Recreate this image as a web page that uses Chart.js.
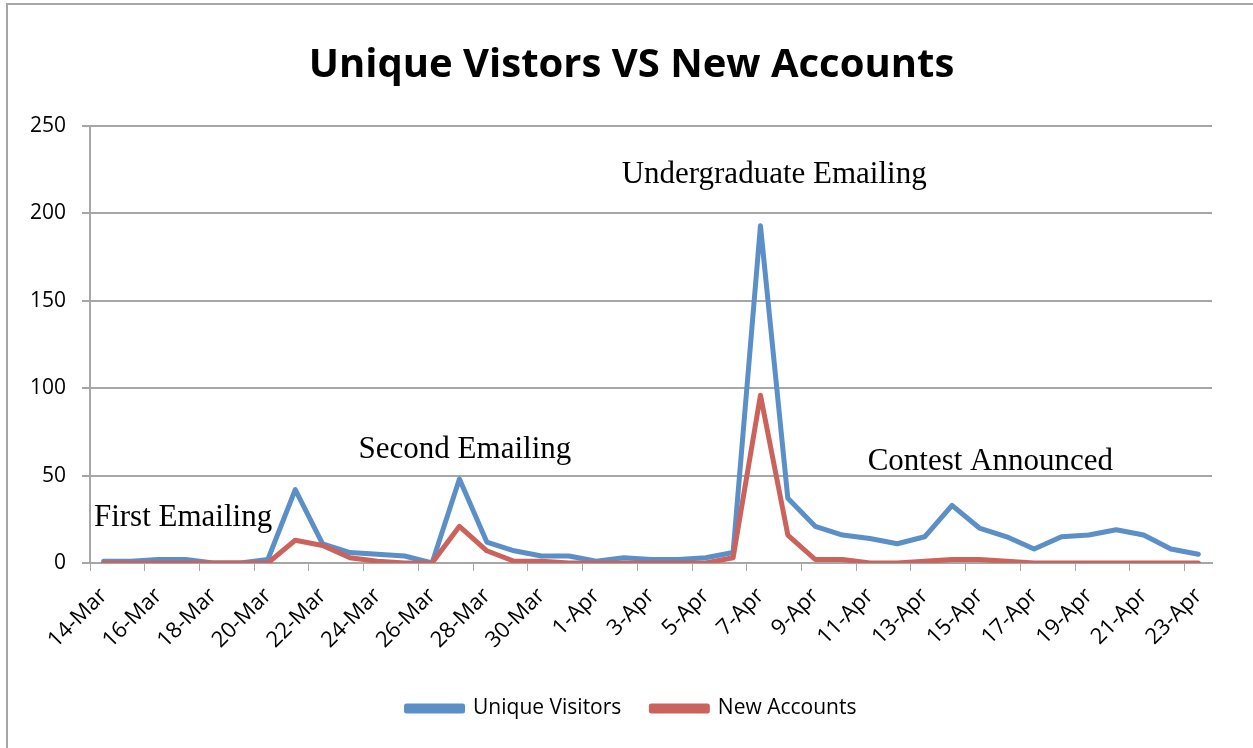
<!DOCTYPE html>
<html lang="en">
<head>
  <meta charset="UTF-8">
  <title>Unique Vistors VS New Accounts</title>
  <script src="https://cdn.jsdelivr.net/npm/chart.js"></script>
  <style>
    body { margin: 0; background: #fff; }
    /* the chart box, only its left and top edges show in the picture */
    .frame {
      position: absolute;
      left: 6px;
      top: 3px;
      width: 1300px;
      height: 800px;
      border-left: 2px solid #a6a6a6;
      border-top: 2px solid #a6a6a6;
    }
    #chart { position: absolute; left: 0; top: 0; }
  </style>
</head>
<body>
  <div class="frame"></div>
  <canvas id="chart" width="1253" height="748"></canvas>

  <script>
    // one entry per day, 14-Mar to 23-Apr
    const days = [
      '14-Mar', '15-Mar', '16-Mar', '17-Mar', '18-Mar', '19-Mar', '20-Mar', '21-Mar',
      '22-Mar', '23-Mar', '24-Mar', '25-Mar', '26-Mar', '27-Mar', '28-Mar', '29-Mar',
      '30-Mar', '31-Mar', '1-Apr', '2-Apr', '3-Apr', '4-Apr', '5-Apr', '6-Apr',
      '7-Apr', '8-Apr', '9-Apr', '10-Apr', '11-Apr', '12-Apr', '13-Apr', '14-Apr',
      '15-Apr', '16-Apr', '17-Apr', '18-Apr', '19-Apr', '20-Apr', '21-Apr', '22-Apr',
      '23-Apr'
    ];

    const uniqueVisitors = [
      1, 1, 2, 2, 0, 0, 2, 42,
      11, 6, 5, 4, 0, 48, 12, 7,
      4, 4, 1, 3, 2, 2, 3, 6,
      193, 37, 21, 16, 14, 11, 15, 33,
      20, 15, 8, 15, 16, 19, 16, 8,
      5
    ];

    const newAccounts = [
      0, 0, 0, 0, 0, 0, 0, 13,
      10, 3, 1, 0, 0, 21, 7, 1,
      1, 0, 0, 0, 0, 0, 0, 3,
      96, 16, 2, 2, 0, 0, 1, 2,
      2, 1, 0, 0, 0, 0, 0, 0,
      0
    ];

    const yTicks = [0, 50, 100, 150, 200, 250];

    // event notes: text, day index, value it sits at
    const noteText = ['First Emailing', 'Second Emailing', 'Undergraduate Emailing', 'Contest Announced'];
    const noteDay = [2.9, 13.2, 24.5, 32.4];
    const noteValue = [26, 65, 222, 58];

    const gridGray = '#a6a6a6';

    const notesPlugin = {
      id: 'notes',
      afterDatasetsDraw(chart) {
        const ctx = chart.ctx;
        const x = chart.scales.x;
        const y = chart.scales.y;
        ctx.save();
        ctx.font = '31px "Liberation Serif", serif';
        ctx.fillStyle = '#000';
        ctx.textAlign = 'center';
        ctx.textBaseline = 'middle';
        noteText.forEach((t, i) => {
          ctx.fillText(t, x.getPixelForValue(noteDay[i]), y.getPixelForValue(noteValue[i]));
        });
        ctx.restore();
      }
    };

    new Chart(document.getElementById('chart'), {
      type: 'line',
      data: {
        labels: days,
        datasets: [{
          label: 'Unique Visitors',
          data: uniqueVisitors,
          borderColor: '#5a8fc8',
          backgroundColor: '#5a8fc8',
          borderWidth: 5,
          pointRadius: 0,
          tension: 0,
          borderJoinStyle: 'round',
          borderCapStyle: 'round',
          order: 2
        }, {
          label: 'New Accounts',
          data: newAccounts,
          borderColor: '#cc625c',
          backgroundColor: '#cc625c',
          borderWidth: 5,
          pointRadius: 0,
          tension: 0,
          borderJoinStyle: 'round',
          borderCapStyle: 'round',
          order: 1
        }]
      },
      options: {
        responsive: false,
        animation: false,
        layout: { padding: { left: 10, right: 0, top: 0, bottom: 19 } },
        plugins: {
          title: {
            display: true,
            text: 'Unique Vistors VS New Accounts',
            color: '#000',
            font: { family: '"Open Sans"', size: 40, weight: 'bold' },
            padding: { top: 42, bottom: 36 }
          },
          legend: {
            position: 'bottom',
            labels: {
              color: '#000',
              font: { family: '"Open Sans"', size: 21 },
              boxWidth: 56,
              boxHeight: 5,
              padding: 30,
              sort: (a, b) => a.datasetIndex - b.datasetIndex
            }
          },
          tooltip: { enabled: false }
        },
        scales: {
          x: {
            offset: true,
            grid: {
              offset: true,
              drawOnChartArea: false,
              tickLength: 8,
              tickColor: (c) => (c.index % 2 === 0 ? gridGray : 'rgba(0,0,0,0)')
            },
            border: { color: gridGray, width: 2 },
            ticks: {
              autoSkip: false,
              maxRotation: 45,
              minRotation: 45,
              padding: 12,
              color: '#000',
              font: { family: '"Open Sans"', size: 22 },
              callback: (v, i) => (i % 2 === 0 ? days[i] : '')
            },
            afterFit: (s) => { s.height = 105; }
          },
          y: {
            min: 0,
            max: 250,
            afterBuildTicks: (s) => { s.ticks = yTicks.map(v => ({ value: v })); },
            grid: { color: gridGray, lineWidth: 2, tickLength: 8 },
            border: { color: gridGray, width: 2 },
            ticks: {
              color: '#000',
              padding: 16,
              font: { family: '"Open Sans"', size: 21 }
            },
            afterFit: (s) => { s.width = 80; }
          },
          // empty right-hand strip so the plot stops short of the edge
          spacer: {
            type: 'linear',
            position: 'right',
            display: true,
            grid: { display: false },
            border: { display: false },
            ticks: { display: false },
            afterFit: (s) => { s.width = 41; }
          }
        }
      },
      plugins: [notesPlugin]
    });
  </script>
</body>
</html>
